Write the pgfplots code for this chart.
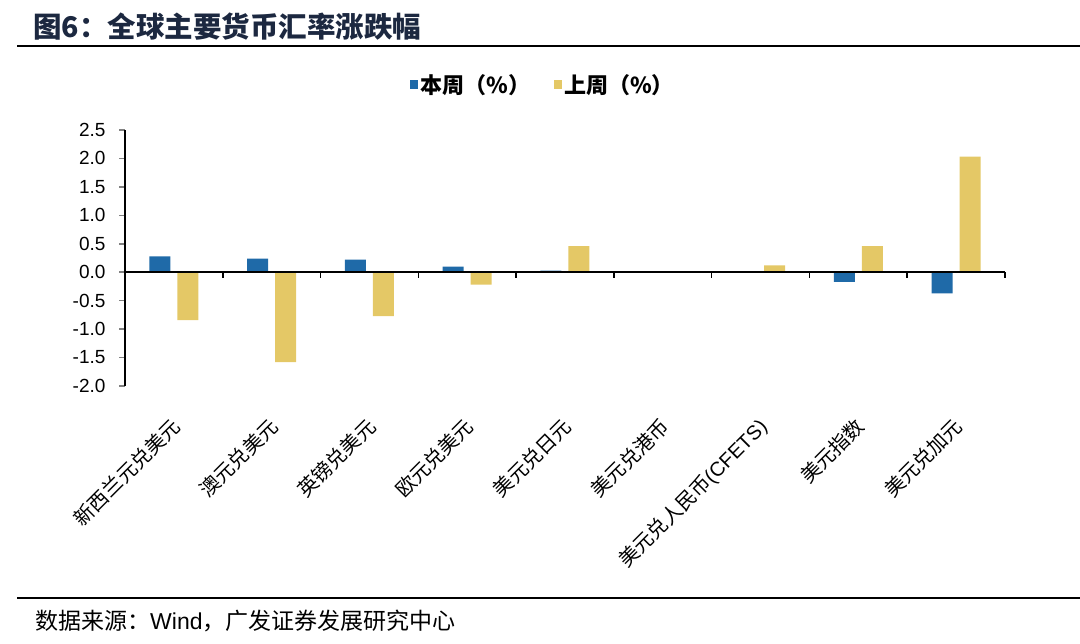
\documentclass[border=0pt]{standalone}
\usepackage{fontspec}
\setmainfont{Liberation Sans}
\newfontfamily\cjk{Noto Sans CJK SC}
\usepackage{pgfplots}
\pgfplotsset{compat=1.18}
\definecolor{barblue}{HTML}{1F6AA8}
\definecolor{baryellow}{HTML}{E4C866}
\definecolor{titlenavy}{HTML}{1C2840}

\begin{document}
\begin{tikzpicture}[x=1pt,y=1pt]
\useasboundingbox (0,0) rectangle (1080,644);

% title and rules
\node[anchor=west, text=titlenavy, font=\cjk\bfseries\fontsize{28.5}{32}\selectfont, inner sep=0pt] at (33,617) {图6：全球主要货币汇率涨跌幅};
\draw[line width=2pt] (17,598) -- (1080,598);
\draw[line width=1.5pt] (17,46) -- (1080,46);
\node[anchor=west, font=\fontsize{23}{26}\selectfont, inner sep=0pt] at (35,23) {{\cjk 数据来源：}Wind{\cjk ，广发证券发展研究中心}};

\begin{axis}[
  at={(125pt,258pt)}, anchor=south west,
  scale only axis,
  width=880pt, height=256pt,
  xmin=-0.5, xmax=8.5,
  ymin=-2, ymax=2.5,
  ybar=7pt, bar width=21pt,
  axis y line*=left,
  axis x line*=bottom,
  x axis line style={draw=none},
  y axis line style={line width=1.5pt},
  xtick={0,...,8},
  xtick style={draw=none},
  xticklabels={{\cjk 新西兰元兑美元},{\cjk 澳元兑美元},{\cjk 英镑兑美元},{\cjk 欧元兑美元},{\cjk 美元兑日元},{\cjk 美元兑港币},{\cjk 美元兑人民币}(CFETS),{\cjk 美元指数},{\cjk 美元兑加元}},
  xticklabel style={rotate=45, anchor=north east, inner sep=0pt, font=\fontsize{20}{23}\selectfont, yshift=-14pt, xshift=-20pt},
  ytick={-2,-1.5,...,2.5},
  ytick align=outside,
  ytick style={line width=1.5pt},
  major tick length=6pt,
  yticklabel style={font=\fontsize{19}{22}\selectfont, xshift=-10pt},
  /pgf/number format/assume math mode=true,
  /pgf/number format/.cd, fixed, fixed zerofill, precision=1,
  /pgfplots/.cd,
  legend style={at={(0.475,1.176)}, anchor=center, draw=none, fill=none,
    legend columns=2, font=\cjk\bfseries\fontsize{22}{25}\selectfont,
    /tikz/every even column/.append style={column sep=22pt}},
  legend image code/.code={\fill[#1,draw=none] (0pt,-4.5pt) rectangle (8pt,4.5pt);},
  clip=false,
]
\addplot[fill=barblue, draw=none] coordinates {(0,0.28) (1,0.24) (2,0.22) (3,0.10) (4,0.03) (5,0) (6,0) (7,-0.17) (8,-0.37)};
\addlegendentry{本周（\%）}
\addplot[fill=baryellow, draw=none] coordinates {(0,-0.84) (1,-1.58) (2,-0.77) (3,-0.22) (4,0.46) (5,0) (6,0.12) (7,0.46) (8,2.03)};
\addlegendentry{上周（\%）}
\draw[line width=1.5pt] (axis cs:-0.5,0) -- (axis cs:8.5,0);
\pgfplotsinvokeforeach{0.5,1.5,...,8.5}{\draw[line width=1.5pt] (axis cs:#1,0) -- ([yshift=-6pt]axis cs:#1,0);}
\end{axis}
\end{tikzpicture}
\end{document}
